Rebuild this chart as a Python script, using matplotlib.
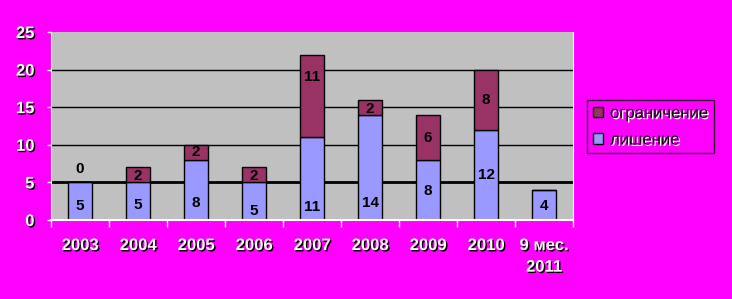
import numpy as np
import matplotlib.pyplot as plt
import matplotlib.patheffects as pe

years = ["2003", "2004", "2005", "2006", "2007", "2008", "2009", "2010", "9 мес.\n2011"]
lishenie = [5, 5, 8, 5, 11, 14, 8, 12, 4]
ogranichenie = [0, 2, 2, 2, 11, 2, 6, 8, None]

# where the value labels sit (data units), as placed in the original
lab_low_y = [1.8, 2.0, 2.3, 1.2, 1.7, 2.3, 3.9, 6.0, 1.9]
lab_up_y = [6.8, 5.8, 9.0, 5.9, 19.0, 14.8, 10.9, 16.0, None]

bg = "#FF00FF"
c_low = "#9999FF"
c_up = "#993366"

plt.rcParams['font.family'] = ['Liberation Sans', 'DejaVu Sans']

fig = plt.figure(figsize=(7.32, 2.99), dpi=100, facecolor=bg)
ax = fig.add_axes([0.0697, 0.2642, 0.7131, 0.6288])
ax.set_facecolor("#C0C0C0")

x = np.arange(len(years))
up = [v if v is not None else 0 for v in ogranichenie]
w = 0.40

for y in [10, 15, 20]:
    ax.axhline(y, color="black", lw=1.0, zorder=1)
ax.axhline(5, color="black", lw=2.0, zorder=1)

b1 = ax.bar(x, lishenie, w, color=c_low, edgecolor="black", lw=1.0, zorder=2, label="лишение")
b2 = ax.bar(x, up, w, bottom=lishenie, color=c_up, edgecolor="black", lw=1.0, zorder=2,
            label="ограничение")

for i in range(len(x)):
    ax.text(x[i], lab_low_y[i], str(lishenie[i]), ha="center", va="center",
            fontsize=11, fontweight="bold", color="black", zorder=3)
    if ogranichenie[i] is not None:
        ax.text(x[i], lab_up_y[i], str(ogranichenie[i]), ha="center", va="center",
                fontsize=11, fontweight="bold", color="black", zorder=3)

ax.set_xlim(-0.5, len(years) - 0.5)
ax.set_ylim(0, 25)
ax.set_yticks([0, 5, 10, 15, 20, 25])
ax.set_xticks(x)
ax.set_xticklabels(years)
ax.set_xticks(np.arange(-0.5, len(years), 1.0), minor=True)
ax.tick_params(axis="x", which="major", length=0, pad=13)
ax.tick_params(axis="x", which="minor", length=5, color="white", width=1)
ax.tick_params(axis="y", length=3, color="white", width=1, pad=9)

shadow = [pe.SimplePatchShadow(offset=(1, -1), shadow_rgbFace="black", alpha=1.0), pe.Normal()]
for lbl in ax.get_xticklabels() + ax.get_yticklabels():
    lbl.set_color("white")
    lbl.set_fontsize(12)
    lbl.set_fontweight("bold")
    lbl.set_path_effects(shadow)
    lbl.set_linespacing(1.55)

ax.spines["top"].set_visible(False)
ax.spines["left"].set_color("white")
ax.spines["bottom"].set_color("white")
ax.spines["right"].set_color("white")
ax.spines["bottom"].set_linewidth(1.5)

leg = fig.legend([b2, b1], ["ограничение", "лишение"], loc="upper left",
                 bbox_to_anchor=(0.8015, 0.6656), borderaxespad=0, frameon=True,
                 fancybox=False, facecolor=bg, edgecolor="black", fontsize=12,
                 handlelength=0.6, handleheight=0.6, handletextpad=0.45,
                 borderpad=0.35, labelspacing=0.7)
leg.get_frame().set_linewidth(1.0)
wshadow = [pe.SimplePatchShadow(offset=(1, -1), shadow_rgbFace="white", alpha=1.0), pe.Normal()]
for t in leg.get_texts():
    t.set_path_effects(wshadow)
    t.set_color("black")

fig.savefig("out.png", dpi=100, facecolor=bg)
